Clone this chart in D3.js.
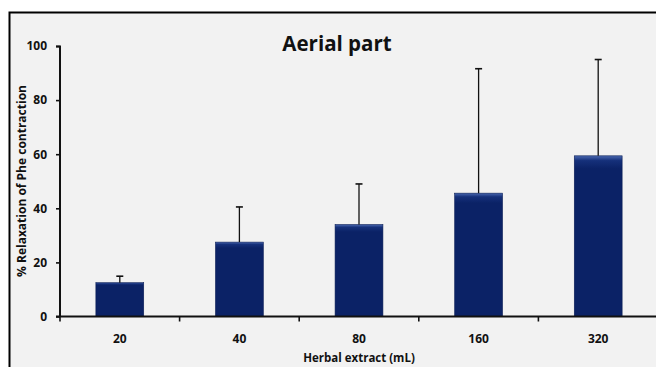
<!DOCTYPE html>
<html>
<head>
<meta charset="utf-8">
<script src="https://cdn.jsdelivr.net/npm/d3@7"></script>
<style>
  body { margin: 0; background: #fff; }
  text { font-family: "Open Sans", Lato, sans-serif; font-weight: bold; fill: #111; }
</style>
</head>
<body>
<div id="chart"></div>
<script>
// data
var doses = ["20", "40", "80", "160", "320"];
var means = [12.5, 27.5, 34, 45.6, 59.4];
var errors = [2.4, 13, 15, 46, 35.6];
var yTicks = [0, 20, 40, 60, 80, 100];

var svgWidth = 656, svgHeight = 367;
var margin = { top: 46, right: -2, bottom: 50, left: 60 };
var chartWidth = svgWidth - margin.left - margin.right;
var chartHeight = svgHeight - margin.top - margin.bottom - 0.5;

var svg = d3.select("#chart").append("svg")
    .attr("width", svgWidth)
    .attr("height", svgHeight);

// gradient for the bevelled bars
var defs = svg.append("defs");
var grad = defs.append("linearGradient")
    .attr("id", "barGrad")
    .attr("x1", 0).attr("y1", 0).attr("x2", 0).attr("y2", 1);
grad.append("stop").attr("offset", "0%").attr("stop-color", "#4a68b0");
grad.append("stop").attr("offset", "3%").attr("stop-color", "#15307a");
grad.append("stop").attr("offset", "8%").attr("stop-color", "#0b2266");
grad.append("stop").attr("offset", "100%").attr("stop-color", "#0b2266");

// chart area frame
svg.append("rect")
    .attr("x", 9.5).attr("y", 12.5)
    .attr("width", svgWidth).attr("height", svgHeight)
    .attr("fill", "#f2f2f2")
    .attr("stroke", "#000")
    .attr("stroke-width", 2);

var chartGroup = svg.append("g")
    .attr("transform", `translate(${margin.left}, ${margin.top})`);

var xScale = d3.scaleBand()
    .domain(doses)
    .range([0, chartWidth])
    .paddingInner(0.6)
    .paddingOuter(0.3);

var yScale = d3.scaleLinear()
    .domain([0, 100])
    .range([chartHeight, 0]);

// bars
chartGroup.selectAll("rect.bar")
    .data(doses)
    .enter()
    .append("rect")
    .attr("class", "bar")
    .attr("x", d => xScale(d))
    .attr("y", (d, i) => yScale(means[i]))
    .attr("width", xScale.bandwidth())
    .attr("height", (d, i) => chartHeight - yScale(means[i]))
    .attr("fill", "url(#barGrad)")
    .attr("stroke", "#0a1d55")
    .attr("stroke-width", 0.6);

// error bars (upper only)
var cx = d => xScale(d) + xScale.bandwidth() / 2;
chartGroup.selectAll("line.err")
    .data(doses)
    .enter()
    .append("line")
    .attr("class", "err")
    .attr("x1", cx).attr("x2", cx)
    .attr("y1", (d, i) => yScale(means[i]))
    .attr("y2", (d, i) => yScale(means[i] + errors[i]))
    .attr("stroke", "#111")
    .attr("stroke-width", 1.3);

chartGroup.selectAll("line.cap")
    .data(doses)
    .enter()
    .append("line")
    .attr("class", "cap")
    .attr("x1", d => cx(d) - 3.5).attr("x2", d => cx(d) + 3.5)
    .attr("y1", (d, i) => yScale(means[i] + errors[i]))
    .attr("y2", (d, i) => yScale(means[i] + errors[i]))
    .attr("stroke", "#111")
    .attr("stroke-width", 1.6);

// y axis
var yAxis = d3.axisLeft(yScale).tickValues(yTicks).tickSize(4).tickPadding(9);
var yG = chartGroup.append("g").call(yAxis);
yG.select(".domain").attr("stroke", "#111").attr("stroke-width", 2).attr("d", `M-4,0.5H0V${chartHeight}`);
yG.selectAll(".tick line").attr("stroke", "#111").attr("stroke-width", 1.6);
yG.selectAll(".tick text").attr("font-size", 12).style("font-family", "'Open Sans', sans-serif").style("font-weight", "bold").attr("fill", "#111");

// x axis: ticks between categories
var xAxisG = chartGroup.append("g")
    .attr("transform", `translate(0, ${chartHeight})`);
xAxisG.append("line")
    .attr("x1", -4).attr("x2", chartWidth + 4)
    .attr("stroke", "#111").attr("stroke-width", 2);
var step = xScale.step();
var boundaries = doses.map((d, i) => xScale(d) - (step - xScale.bandwidth()) / 2).concat([chartWidth]);
xAxisG.selectAll("line.xt")
    .data(boundaries)
    .enter()
    .append("line")
    .attr("class", "xt")
    .attr("x1", d => d).attr("x2", d => d)
    .attr("y1", 0).attr("y2", 5)
    .attr("stroke", "#111").attr("stroke-width", 1.6);
xAxisG.selectAll("text.xl")
    .data(doses)
    .enter()
    .append("text")
    .attr("class", "xl")
    .attr("x", d => cx(d))
    .attr("y", 26)
    .attr("text-anchor", "middle")
    .attr("font-size", 12)
    .text(d => d);

// titles
svg.append("text")
    .attr("x", 337).attr("y", 51)
    .attr("text-anchor", "middle")
    .attr("font-size", 20.5)
    .text("Aerial part");

svg.append("text")
    .attr("x", margin.left + chartWidth / 2).attr("y", 362)
    .attr("text-anchor", "middle")
    .attr("font-size", 11.5)
    .text("Herbal extract (mL)");

svg.append("text")
    .attr("transform", "rotate(-90)")
    .attr("x", -181).attr("y", 26)
    .attr("text-anchor", "middle")
    .attr("font-size", 12)
    .text("% Relaxation of Phe contraction");
</script>
</body>
</html>
